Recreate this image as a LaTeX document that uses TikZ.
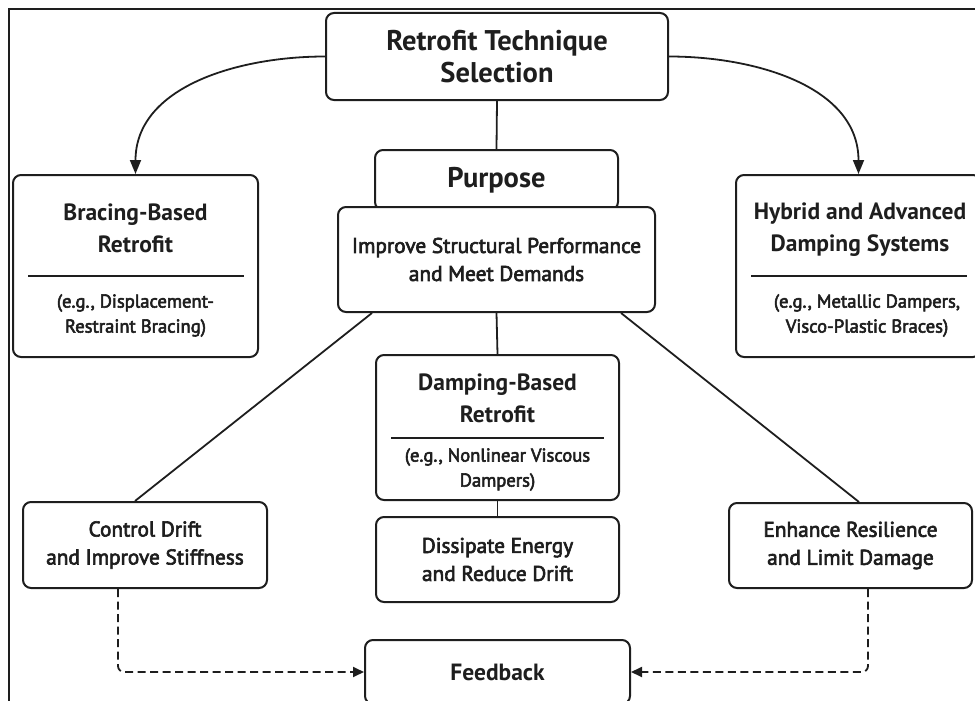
\documentclass[tikz,border=0pt]{standalone}
\usepackage{fontspec}
\setmainfont{PT Sans}
\newfontfamily\medfam{PT Sans}[FakeBold=3]
\usetikzlibrary{arrows.meta, calc}
\definecolor{inkd}{HTML}{1E1E1E}
\newcommand{\ttlf}{\fontsize{23.5}{32}\selectfont\bfseries}
\newcommand{\bigf}{\fontsize{28.5}{32}\selectfont\bfseries}
\newcommand{\bodyf}{\medfam\fontsize{21.3}{28}\selectfont}
\newcommand{\subf}{\medfam\fontsize{18.6}{25}\selectfont}

\begin{document}
\begin{tikzpicture}[x=1pt, y=-1pt,
  box/.style={draw=inkd, line width=2pt, rounded corners=8pt, fill=white,
              inner sep=0pt, align=center, text=inkd, font=\bodyf},
  ttl/.style={align=center, text=inkd, font=\ttlf},
  sub/.style={align=center, text=inkd, font=\subf},
  link/.style={draw=inkd, line width=1.8pt},
  back/.style={link, dash pattern=on 8pt off 4.5pt, rounded corners=6pt,
               -{Triangle[length=11pt, width=10pt]}}]
  \useasboundingbox (0,0) rectangle (975,701);
  \clip (0,0) rectangle (975,701);
  % frame
  \draw[line width=1.4pt, inkd] (9,730) -- (9,9) -- (1000,9);
  % selection and purpose
  \node[box, minimum width=342, minimum height=87, font=\bigf] (sel) at (497,56.5)
    {Retrofit Technique\\Selection};
  \node[box, minimum width=243, minimum height=60, font=\bigf] (pur) at (496.5,180) {Purpose};
  \node[box, minimum width=317, minimum height=105] (imp) at (496.5,259.5)
    {Improve Structural Performance\\and Meet Demands};
  % the three retrofit families
  \node[box, minimum width=245, minimum height=182] (brc) at (135.5,266) {};
  \node[ttl] (brc-t) at (135.5,228.5) {Bracing-Based\\Retrofit};
  \node[sub] (brc-s) at (135.5,315.5) {(e.g., Displacement-\\Restraint Bracing)};
  \draw[line width=1.8pt, inkd] ($(brc.west)+(16,10)$) -- ($(brc.east)+(-15,10)$);
  \node[box, minimum width=245, minimum height=182] (hyb) at (858.5,266) {};
  \node[ttl] (hyb-t) at (860,230) {Hybrid and Advanced\\Damping Systems};
  \node[sub] (hyb-s) at (867,315.5) {(e.g., Metallic Dampers,\\Visco-Plastic Braces)};
  \draw[line width=1.8pt, inkd] ($(hyb.west)+(16,10)$) -- ($(hyb.east)+(-15,10)$);
  \node[box, minimum width=243, minimum height=145] (dmp) at (497.5,427.5) {};
  \node[ttl] (dmp-t) at (497.5,398.5) {Damping-Based\\Retrofit};
  \node[sub] (dmp-s) at (497.5,469.5) {(e.g., Nonlinear Viscous\\Dampers)};
  \draw[line width=1.8pt, inkd] ($(dmp.west)+(16,10.5)$) -- ($(dmp.east)+(-16,10.5)$);
  % outcomes
  \node[box, minimum width=244, minimum height=86] (ctl) at (145,545)
    {Control Drift\\and Improve Stiffness};
  \node[box, minimum width=243, minimum height=85] (dis) at (497.5,559.5)
    {Dissipate Energy\\and Reduce Drift};
  \node[box, minimum width=243, minimum height=85] (enh) at (850.5,545.5)
    {Enhance Resilience\\and Limit Damage};
  \node[box, minimum width=265, minimum height=64, font=\ttlf] (fb) at (497.5,672) {Feedback};
  % connectors
  \draw[link, -{Triangle[length=14pt, width=11pt]}] (sel.west) to[out=180, in=90] (brc.north);
  \draw[link, -{Triangle[length=14pt, width=11pt]}] (sel.east) to[out=0, in=90] (hyb.north);
  \draw[link] (sel.south) -- (pur.north);
  \draw[link] (imp.south) -- (dmp.north);
  \draw[link] ([xshift=35pt]imp.south west) -- ([xshift=-10pt]ctl.north);
  \draw[link] ([xshift=-35pt]imp.south east) -- ([xshift=8.5pt]enh.north);
  \draw[link] (dmp.south) -- (dis.north);
  % feedback loop
  \draw[back] ([xshift=-27pt]ctl.south) |- (fb.west);
  \draw[back] ([xshift=17.5pt]enh.south) |- (fb.east);
\end{tikzpicture}
\end{document}
